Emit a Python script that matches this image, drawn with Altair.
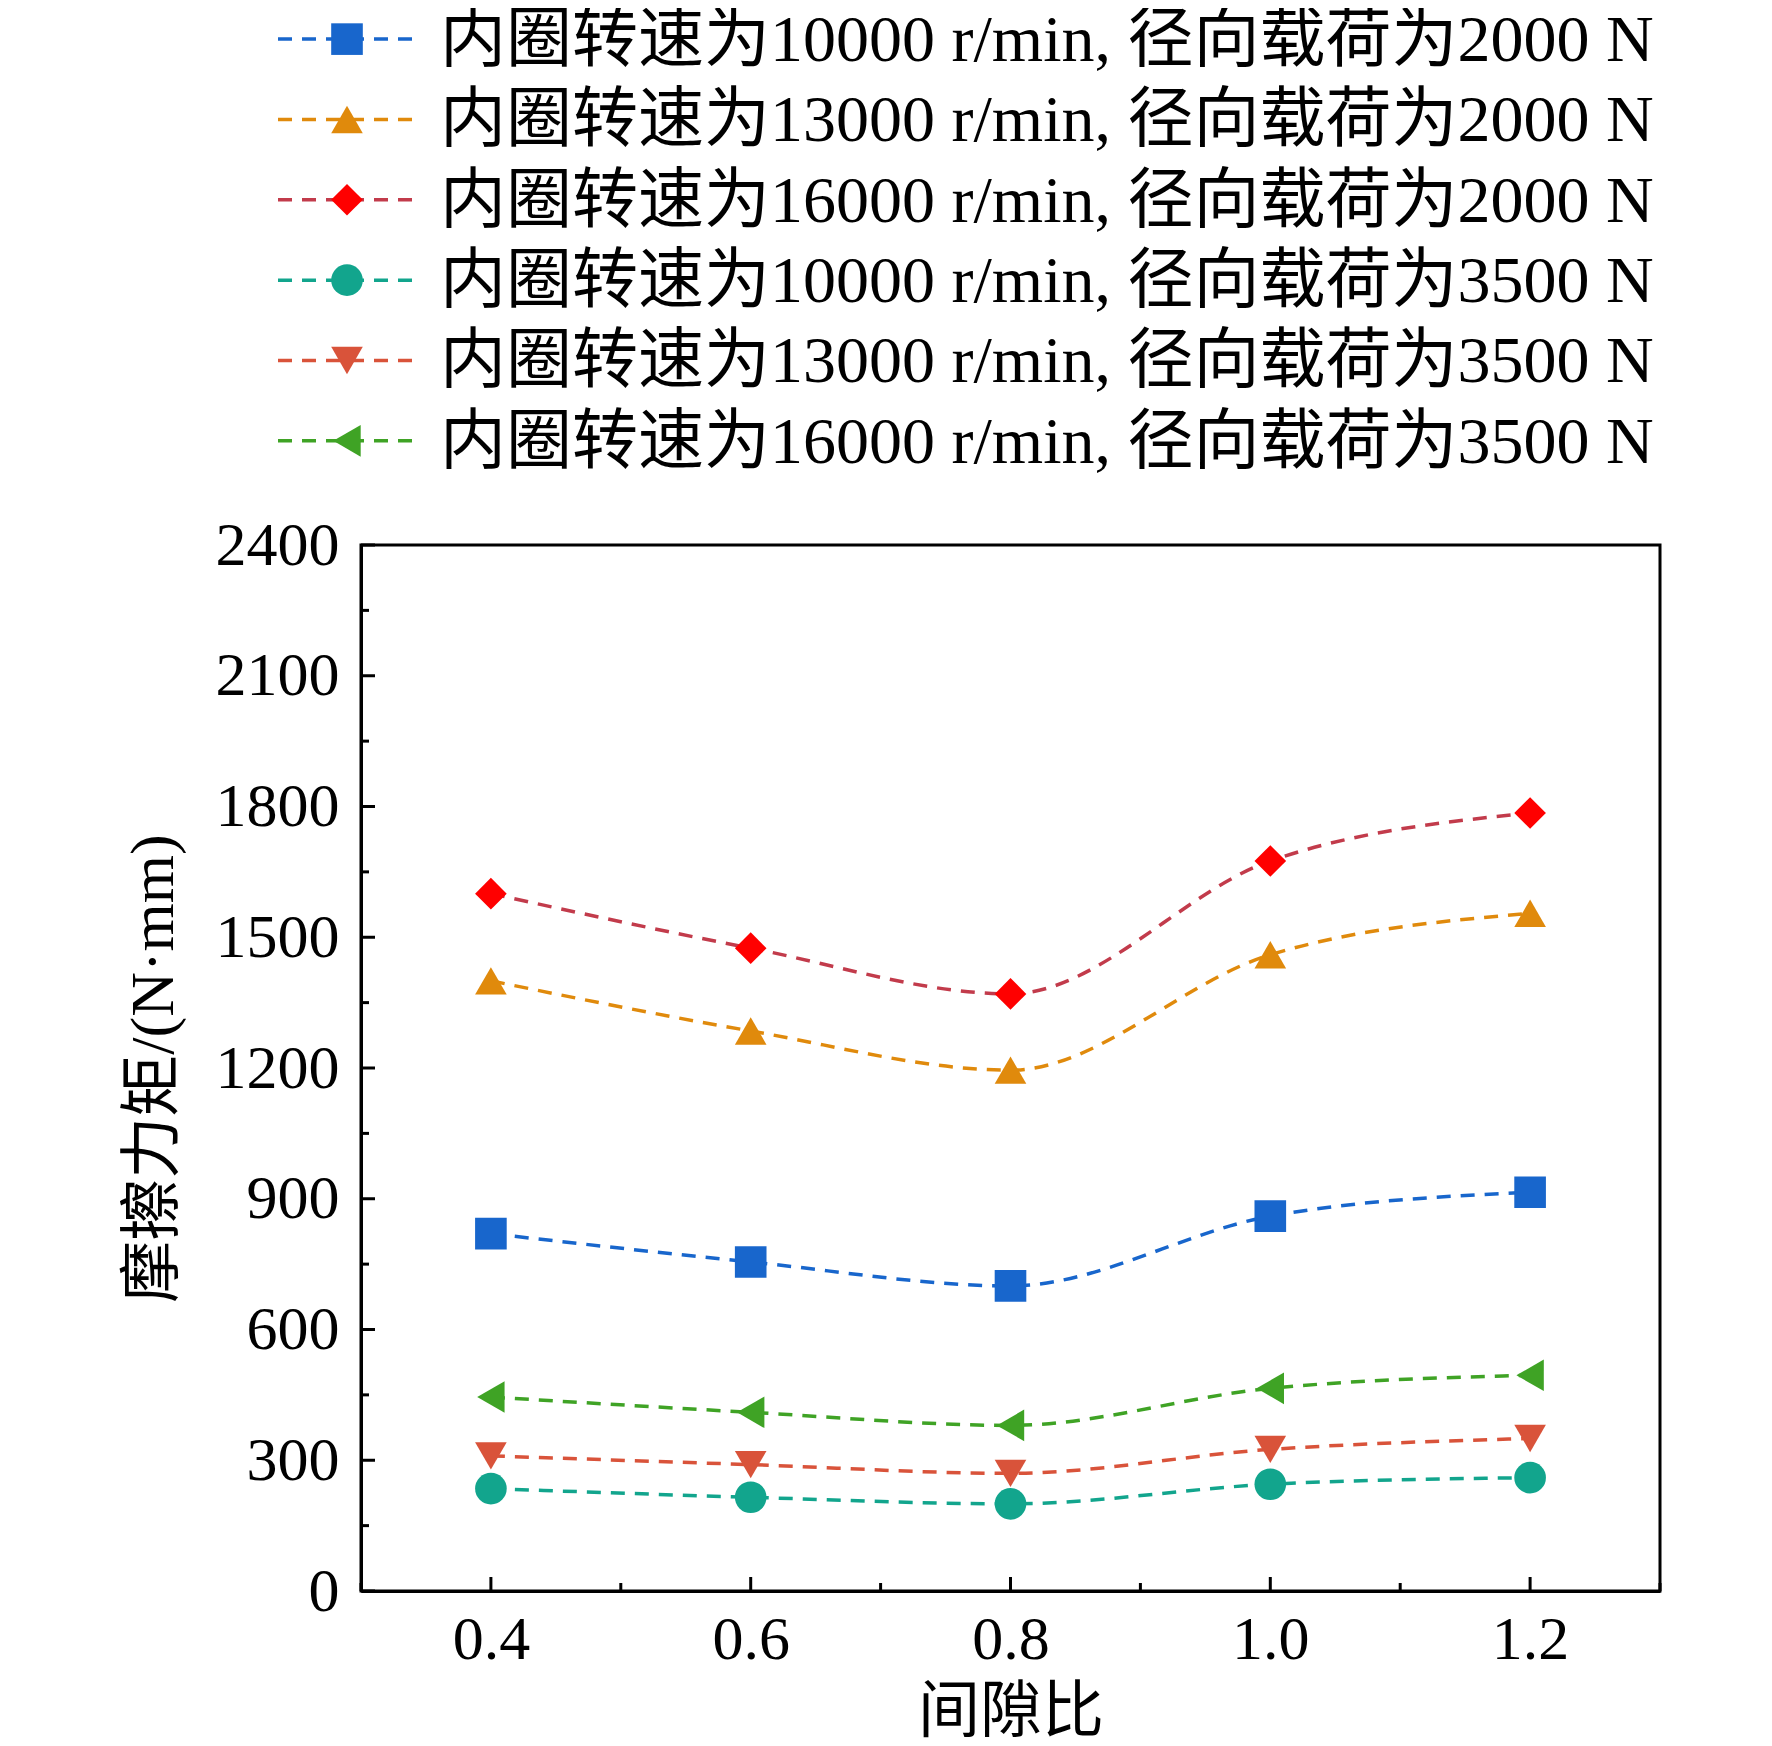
import altair as alt
import pandas as pd

gap = [0.4, 0.6, 0.8, 1.0, 1.2]
series = [
    "内圈转速为10000 r/min, 径向载荷为2000 N",
    "内圈转速为13000 r/min, 径向载荷为2000 N",
    "内圈转速为16000 r/min, 径向载荷为2000 N",
    "内圈转速为10000 r/min, 径向载荷为3500 N",
    "内圈转速为13000 r/min, 径向载荷为3500 N",
    "内圈转速为16000 r/min, 径向载荷为3500 N",
]
values = [
    [820, 755, 700, 860, 915],
    [1400, 1285, 1195, 1460, 1555],
    [1600, 1475, 1370, 1675, 1785],
    [235, 215, 200, 245, 260],
    [310, 290, 270, 325, 350],
    [445, 410, 380, 465, 495],
]
line_colors = ["#1866cc", "#e08a0c", "#c23b4b", "#12a58d", "#d9533a", "#3fa325"]
marker_colors = ["#1866cc", "#e08a0c", "#ff0000", "#12a58d", "#d9533a", "#3fa325"]
shapes = ["square", "triangle-up", "diamond", "circle", "triangle-down", "triangle-left"]
y_major = list(range(0, 2401, 300))
y_minor = list(range(150, 2400, 300))
x_minor = [0.3, 0.5, 0.7, 0.9, 1.1, 1.3]

FONT = "Liberation Serif, Noto Sans CJK SC"
W, H = 1299, 1046

rows = []
for s, vals in zip(series, values):
    for g, v in zip(gap, vals):
        rows.append({"series": s, "gap": g, "torque": v})
df = pd.DataFrame(rows)

xs = alt.Scale(domain=[0.3, 1.3], nice=False)
ys = alt.Scale(domain=[0, 2400], nice=False)

layers = []
for i, s in enumerate(series):
    d = df[df.series == s]
    base = alt.Chart(d).encode(x=alt.X("gap:Q", scale=xs), y=alt.Y("torque:Q", scale=ys))
    layers.append(base.mark_line(color=line_colors[i], strokeDash=[14, 10], strokeWidth=3.5,
                                 interpolate="monotone"))
    layers.append(base.mark_point(shape=shapes[i], filled=True, opacity=1, size=1000,
                                  color=marker_colors[i]))

ymaj = alt.Chart(pd.DataFrame({"v": y_major})).mark_rule(color="black", strokeWidth=3).encode(
    y=alt.Y("v:Q", scale=ys), x=alt.value(0), x2=alt.value(14))
ymin = alt.Chart(pd.DataFrame({"v": y_minor})).mark_rule(color="black", strokeWidth=3).encode(
    y=alt.Y("v:Q", scale=ys), x=alt.value(0), x2=alt.value(8))
xmaj = alt.Chart(pd.DataFrame({"v": gap})).mark_rule(color="black", strokeWidth=3).encode(
    x=alt.X("v:Q", scale=xs), y=alt.value(H), y2=alt.value(H - 14))
xmin = alt.Chart(pd.DataFrame({"v": x_minor})).mark_rule(color="black", strokeWidth=3).encode(
    x=alt.X("v:Q", scale=xs), y=alt.value(H), y2=alt.value(H - 8))

axis_x = alt.Axis(values=gap, format=".1f", labelFontSize=62, titleFontSize=62, ticks=False,
                  grid=False, labelPadding=18, titlePadding=12, title="间隙比",
                  domainColor="black", domainWidth=3, labelColor="black", titleColor="black",
                  titleFontWeight="normal", labelFont=FONT, titleFont=FONT)
axis_y = alt.Axis(values=y_major, format="d", labelFontSize=62, titleFontSize=62, ticks=False,
                  grid=False, labelPadding=22, titlePadding=30, title="摩擦力矩/(N·mm)",
                  domainColor="black", domainWidth=3, labelColor="black", titleColor="black",
                  titleFontWeight="normal", labelFont=FONT, titleFont=FONT)

axes = alt.Chart(df).mark_point(opacity=0).encode(
    x=alt.X("gap:Q", scale=xs, axis=axis_x), y=alt.Y("torque:Q", scale=ys, axis=axis_y))

plot = alt.layer(axes, *layers, ymaj, ymin, xmaj, xmin).properties(
    width=W, height=H, view=alt.ViewConfig(stroke="black", strokeWidth=3))

# legend
leg_df = pd.DataFrame({"series": series, "idx": list(range(len(series)))})
ly = alt.Y("idx:Q", axis=None, scale=alt.Scale(domain=[-0.35, 5.5], reverse=True, nice=False))
leg_layers = []
for i, s in enumerate(series):
    d = leg_df[leg_df.series == s]
    b = alt.Chart(d).encode(y=ly)
    leg_layers.append(b.mark_rule(color=line_colors[i], strokeDash=[14, 10], strokeWidth=3.5).encode(
        x=alt.value(-83), x2=alt.value(57)))
    leg_layers.append(b.mark_point(shape=shapes[i], filled=True, opacity=1, size=1000,
                                   color=marker_colors[i]).encode(x=alt.value(-14)))
leg_text = alt.Chart(leg_df).mark_text(align="left", baseline="middle", fontSize=66, font=FONT,
                                       color="black", dy=2).encode(
    y=ly, x=alt.value(79), text="series:N")
legend = alt.layer(*leg_layers, leg_text).properties(
    width=W, height=470, view=alt.ViewConfig(stroke=None))

chart = alt.vconcat(legend, plot, spacing=31).properties(
    padding={"left": 112, "top": 0, "right": 5, "bottom": 5}
)

chart.save("out.html", embed_options={"renderer": "svg", "actions": False})
